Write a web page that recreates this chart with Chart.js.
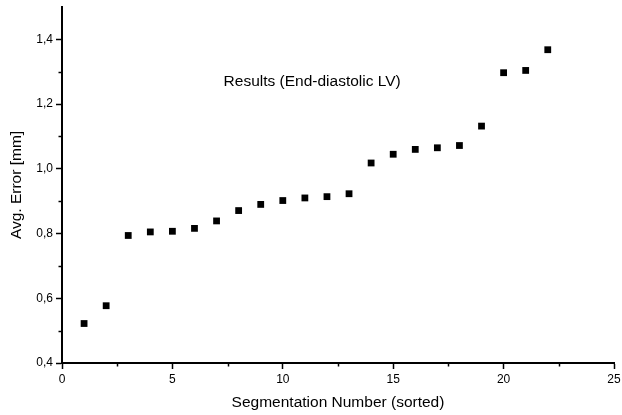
<!DOCTYPE html>
<html>
<head>
<meta charset="utf-8">
<script src="https://cdn.jsdelivr.net/npm/chart.js@4/dist/chart.umd.min.js"></script>
<style>
  html, body { margin: 0; padding: 0; background: #fff; }
  #wrap { width: 622px; height: 415px; position: relative; }
</style>
</head>
<body>
<div id="wrap"><canvas id="c" width="622" height="415"></canvas></div>
<script>
// ---- Data ----
const segmentationNumbers = [1, 2, 3, 4, 5, 6, 7, 8, 9, 10, 11, 12, 13, 14, 15, 16, 17, 18, 19, 20, 21, 22];
const avgErrors = [0.522, 0.577, 0.794, 0.805, 0.807, 0.816, 0.839, 0.871, 0.890, 0.902, 0.910, 0.914, 0.923, 1.018, 1.045, 1.060, 1.065, 1.072, 1.132, 1.297, 1.304, 1.368];
const xTickLabels = ['0', '5', '10', '15', '20', '25'];
const yTickLabels = ['0,4', '0,6', '0,8', '1,0', '1,2', '1,4'];
const xTitle = 'Segmentation Number (sorted)';
const yTitle = 'Avg. Error [mm]';
const annotationText = 'Results (End-diastolic LV)';
const annotationAt = { x: 11.33, y: 1.27 };

const FONT = "'Liberation Sans', Arial, Helvetica, sans-serif";

const points = segmentationNumbers.map((x, i) => ({ x: x, y: avgErrors[i] }));

function isMajorX(v) { return Math.abs(v / 5 - Math.round(v / 5)) < 1e-6; }
function isMajorY(v) { return Math.abs(v * 5 - Math.round(v * 5)) < 1e-6; }

function fmtY(v) {
  const s = v.toFixed(1).replace('.', ',');
  return yTickLabels.includes(s) ? s : '';
}
function fmtX(v) {
  const s = String(Math.round(v));
  return (isMajorX(v) && xTickLabels.includes(s)) ? s : '';
}

const minorTicksPlugin = {
  id: 'minorTicks',
  afterDraw(chart) {
    const ctx = chart.ctx;
    ctx.save();
    ctx.strokeStyle = '#000';
    ctx.lineWidth = 1.5;
    const xs = chart.scales.x, ys = chart.scales.y;
    const bottom = chart.chartArea.bottom, left = chart.chartArea.left;
    xs.ticks.forEach(t => {
      if (!isMajorX(t.value)) {
        const px = Math.round(xs.getPixelForValue(t.value)) + 0.5;
        ctx.beginPath(); ctx.moveTo(px, bottom); ctx.lineTo(px, bottom + 3.5); ctx.stroke();
      }
    });
    ys.ticks.forEach(t => {
      if (!isMajorY(t.value) && t.value < ys.max - 1e-6) {
        const py = Math.round(ys.getPixelForValue(t.value)) + 0.5;
        ctx.beginPath(); ctx.moveTo(left, py); ctx.lineTo(left - 3.5, py); ctx.stroke();
      }
    });
    // annotation text
    ctx.fillStyle = '#000';
    ctx.font = '15.5px ' + FONT;
    ctx.textAlign = 'center';
    ctx.textBaseline = 'middle';
    ctx.fillText(annotationText, xs.getPixelForValue(annotationAt.x), ys.getPixelForValue(annotationAt.y));
    ctx.restore();
  }
};

new Chart(document.getElementById('c'), {
  type: 'scatter',
  data: {
    datasets: [{
      data: points,
      pointStyle: 'rect',
      pointRadius: 4.8,
      pointHoverRadius: 4.8,
      backgroundColor: '#000',
      borderColor: '#000',
      borderWidth: 0
    }]
  },
  options: {
    responsive: false,
    animation: false,
    events: [],
    layout: { padding: { top: 7, right: 8, left: 0, bottom: 0 }, autoPadding: false },
    plugins: { legend: { display: false }, tooltip: { enabled: false }, title: { display: false } },
    scales: {
      x: {
        type: 'linear',
        min: 0, max: 25,
        afterFit(scale) { scale.height = 52; scale.paddingLeft = 0; scale.paddingRight = 0; },
        border: { display: true, color: '#000', width: 2 },
        grid: {
          drawOnChartArea: false,
          drawTicks: true,
          tickLength: 6,
          tickWidth: 1.5,
          color: ctx => (ctx.tick && isMajorX(ctx.tick.value)) ? '#000' : 'rgba(0,0,0,0)'
        },
        ticks: {
          stepSize: 2.5,
          autoSkip: false,
          maxRotation: 0,
          padding: 3,
          color: '#000',
          font: { family: FONT, size: 12 },
          callback: v => fmtX(v)
        },
        title: {
          display: true,
          text: xTitle,
          color: '#000',
          font: { family: FONT, size: 15.5 },
          padding: { top: 0, bottom: 3 }
        }
      },
      y: {
        type: 'linear',
        min: 0.4, max: 1.5,
        afterFit(scale) { scale.width = 62; scale.paddingTop = 0; scale.paddingBottom = 0; },
        border: { display: true, color: '#000', width: 2 },
        grid: {
          drawOnChartArea: false,
          drawTicks: true,
          tickLength: 6,
          tickWidth: 1.5,
          color: ctx => (ctx.tick && isMajorY(ctx.tick.value)) ? '#000' : 'rgba(0,0,0,0)'
        },
        ticks: {
          stepSize: 0.1,
          autoSkip: false,
          padding: 3,
          color: '#000',
          font: { family: FONT, size: 12 },
          callback: v => fmtY(v)
        },
        title: {
          display: true,
          text: yTitle,
          color: '#000',
          font: { family: FONT, size: 15.5 },
          padding: { top: 7, bottom: 0 }
        }
      }
    }
  },
  plugins: [minorTicksPlugin]
});
</script>
</body>
</html>
